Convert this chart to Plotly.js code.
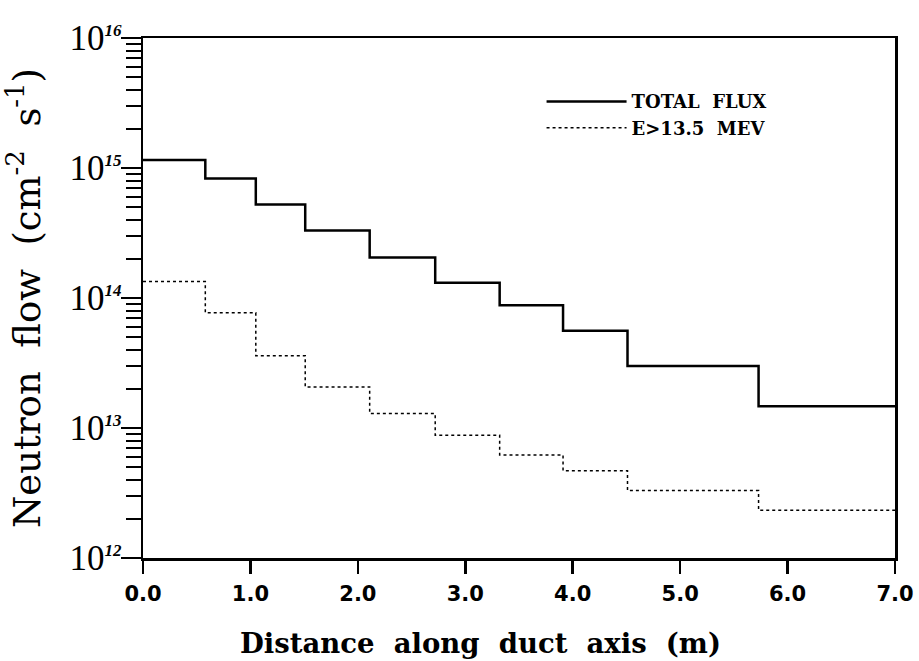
<!DOCTYPE html>
<html>
<head>
<meta charset="utf-8">
<script src="https://cdn.plot.ly/plotly-3.0.1.min.js"></script>
<style>html,body{margin:0;padding:0;background:#fff;}#chart{width:919px;height:661px;}</style>
</head>
<body>
<div id="chart"></div>
<script>
// Step boundaries along the duct axis (m)
const boundaries = [0, 0.58, 1.05, 1.51, 2.11, 2.72, 3.32, 3.91, 4.51, 5.73, 7.0];
// Total neutron flux in each segment (cm^-2 s^-1)
const totalFlux = [1.15e15, 8.3e14, 5.25e14, 3.3e14, 2.05e14, 1.31e14, 8.8e13, 5.6e13, 3.0e13, 1.47e13];
// Flux with E > 13.5 MeV in each segment
const fastFlux = [1.34e14, 7.7e13, 3.6e13, 2.07e13, 1.29e13, 8.8e12, 6.2e12, 4.7e12, 3.3e12, 2.33e12];
const seriesNames = ["TOTAL\u00a0\u00a0FLUX", "E>13.5\u00a0\u00a0MEV"];
const yExponents = [12, 13, 14, 15, 16];
const xTicks = [0, 1, 2, 3, 4, 5, 6, 7];
const xTitle = "Distance\u00a0\u00a0along\u00a0\u00a0duct\u00a0\u00a0axis\u00a0\u00a0(m)";
const yTitle = "Neutron\u00a0\u00a0flow\u00a0\u00a0(cm<sup>-2</sup>\u00a0\u00a0s<sup>-1</sup>)";

function stepY(vals) { return vals.concat([vals[vals.length - 1]]); }

const majorVals = yExponents.map(e => Math.pow(10, e));
const majorText = yExponents.map(e => '10<sup><span style="font-size:17px;font-weight:bold;font-style:italic">' + e + '</span></sup>');
const minorVals = [];
for (let i = 0; i < yExponents.length - 1; i++) {
  for (let d = 2; d <= 9; d++) minorVals.push(d * Math.pow(10, yExponents[i]));
}

const traces = [
  {x: boundaries, y: stepY(totalFlux), name: seriesNames[0], mode: 'lines',
   line: {shape: 'hv', color: '#000', width: 2.5}},
  {x: boundaries, y: stepY(fastFlux), name: seriesNames[1], mode: 'lines',
   line: {shape: 'hv', color: '#000', width: 1.5, dash: 'dot'}}
];

const layout = {
  width: 919, height: 661,
  margin: {l: 143, r: 24, t: 38, b: 103},
  paper_bgcolor: '#fff', plot_bgcolor: '#fff',
  showlegend: true,
  legend: {x: 0.53, y: 0.913, xanchor: 'left', yanchor: 'top', bgcolor: 'rgba(0,0,0,0)',
           itemwidth: 80, tracegroupgap: 0,
           font: {family: 'DejaVu Serif', size: 18, color: '#000', weight: 'bold'}},
  annotations: [
    {text: xTitle, xref: 'paper', yref: 'paper', x: 0.449, y: 0, yshift: -85,
     xanchor: 'center', yanchor: 'middle', showarrow: false,
     font: {family: 'DejaVu Serif', size: 27.5, color: '#000', weight: 'bold'}}
  ],
  xaxis: {
    range: [0, 7], tickvals: xTicks, tickformat: '.1f',
    ticks: 'outside', ticklen: 13, tickwidth: 2.5, tickcolor: '#000',
    ticklabelstandoff: 2,
    showline: true, linewidth: 2.5, linecolor: '#000', mirror: true,
    showgrid: false, zeroline: false,
    tickfont: {family: 'DejaVu Sans', size: 21, color: '#000', weight: 'bold'}
  },
  yaxis: {
    type: 'log', range: [12, 16],
    tickmode: 'array', tickvals: majorVals, ticktext: majorText,
    ticks: 'outside', ticklen: 20, tickwidth: 2, tickcolor: '#000',
    ticklabelstandoff: -8,
    minor: {tickmode: 'array', tickvals: minorVals, ticks: 'outside', ticklen: 15, tickwidth: 2, tickcolor: '#000', showgrid: false},
    showline: true, linewidth: 2.5, linecolor: '#000', mirror: true,
    showgrid: false, zeroline: false,
    tickfont: {family: 'Liberation Serif', size: 35, color: '#000'},
    title: {text: yTitle, standoff: 20,
            font: {family: 'DejaVu Serif', size: 37, color: '#000'}}
  }
};

Plotly.newPlot('chart', traces, layout, {staticPlot: true, displayModeBar: false});
</script>
</body>
</html>
